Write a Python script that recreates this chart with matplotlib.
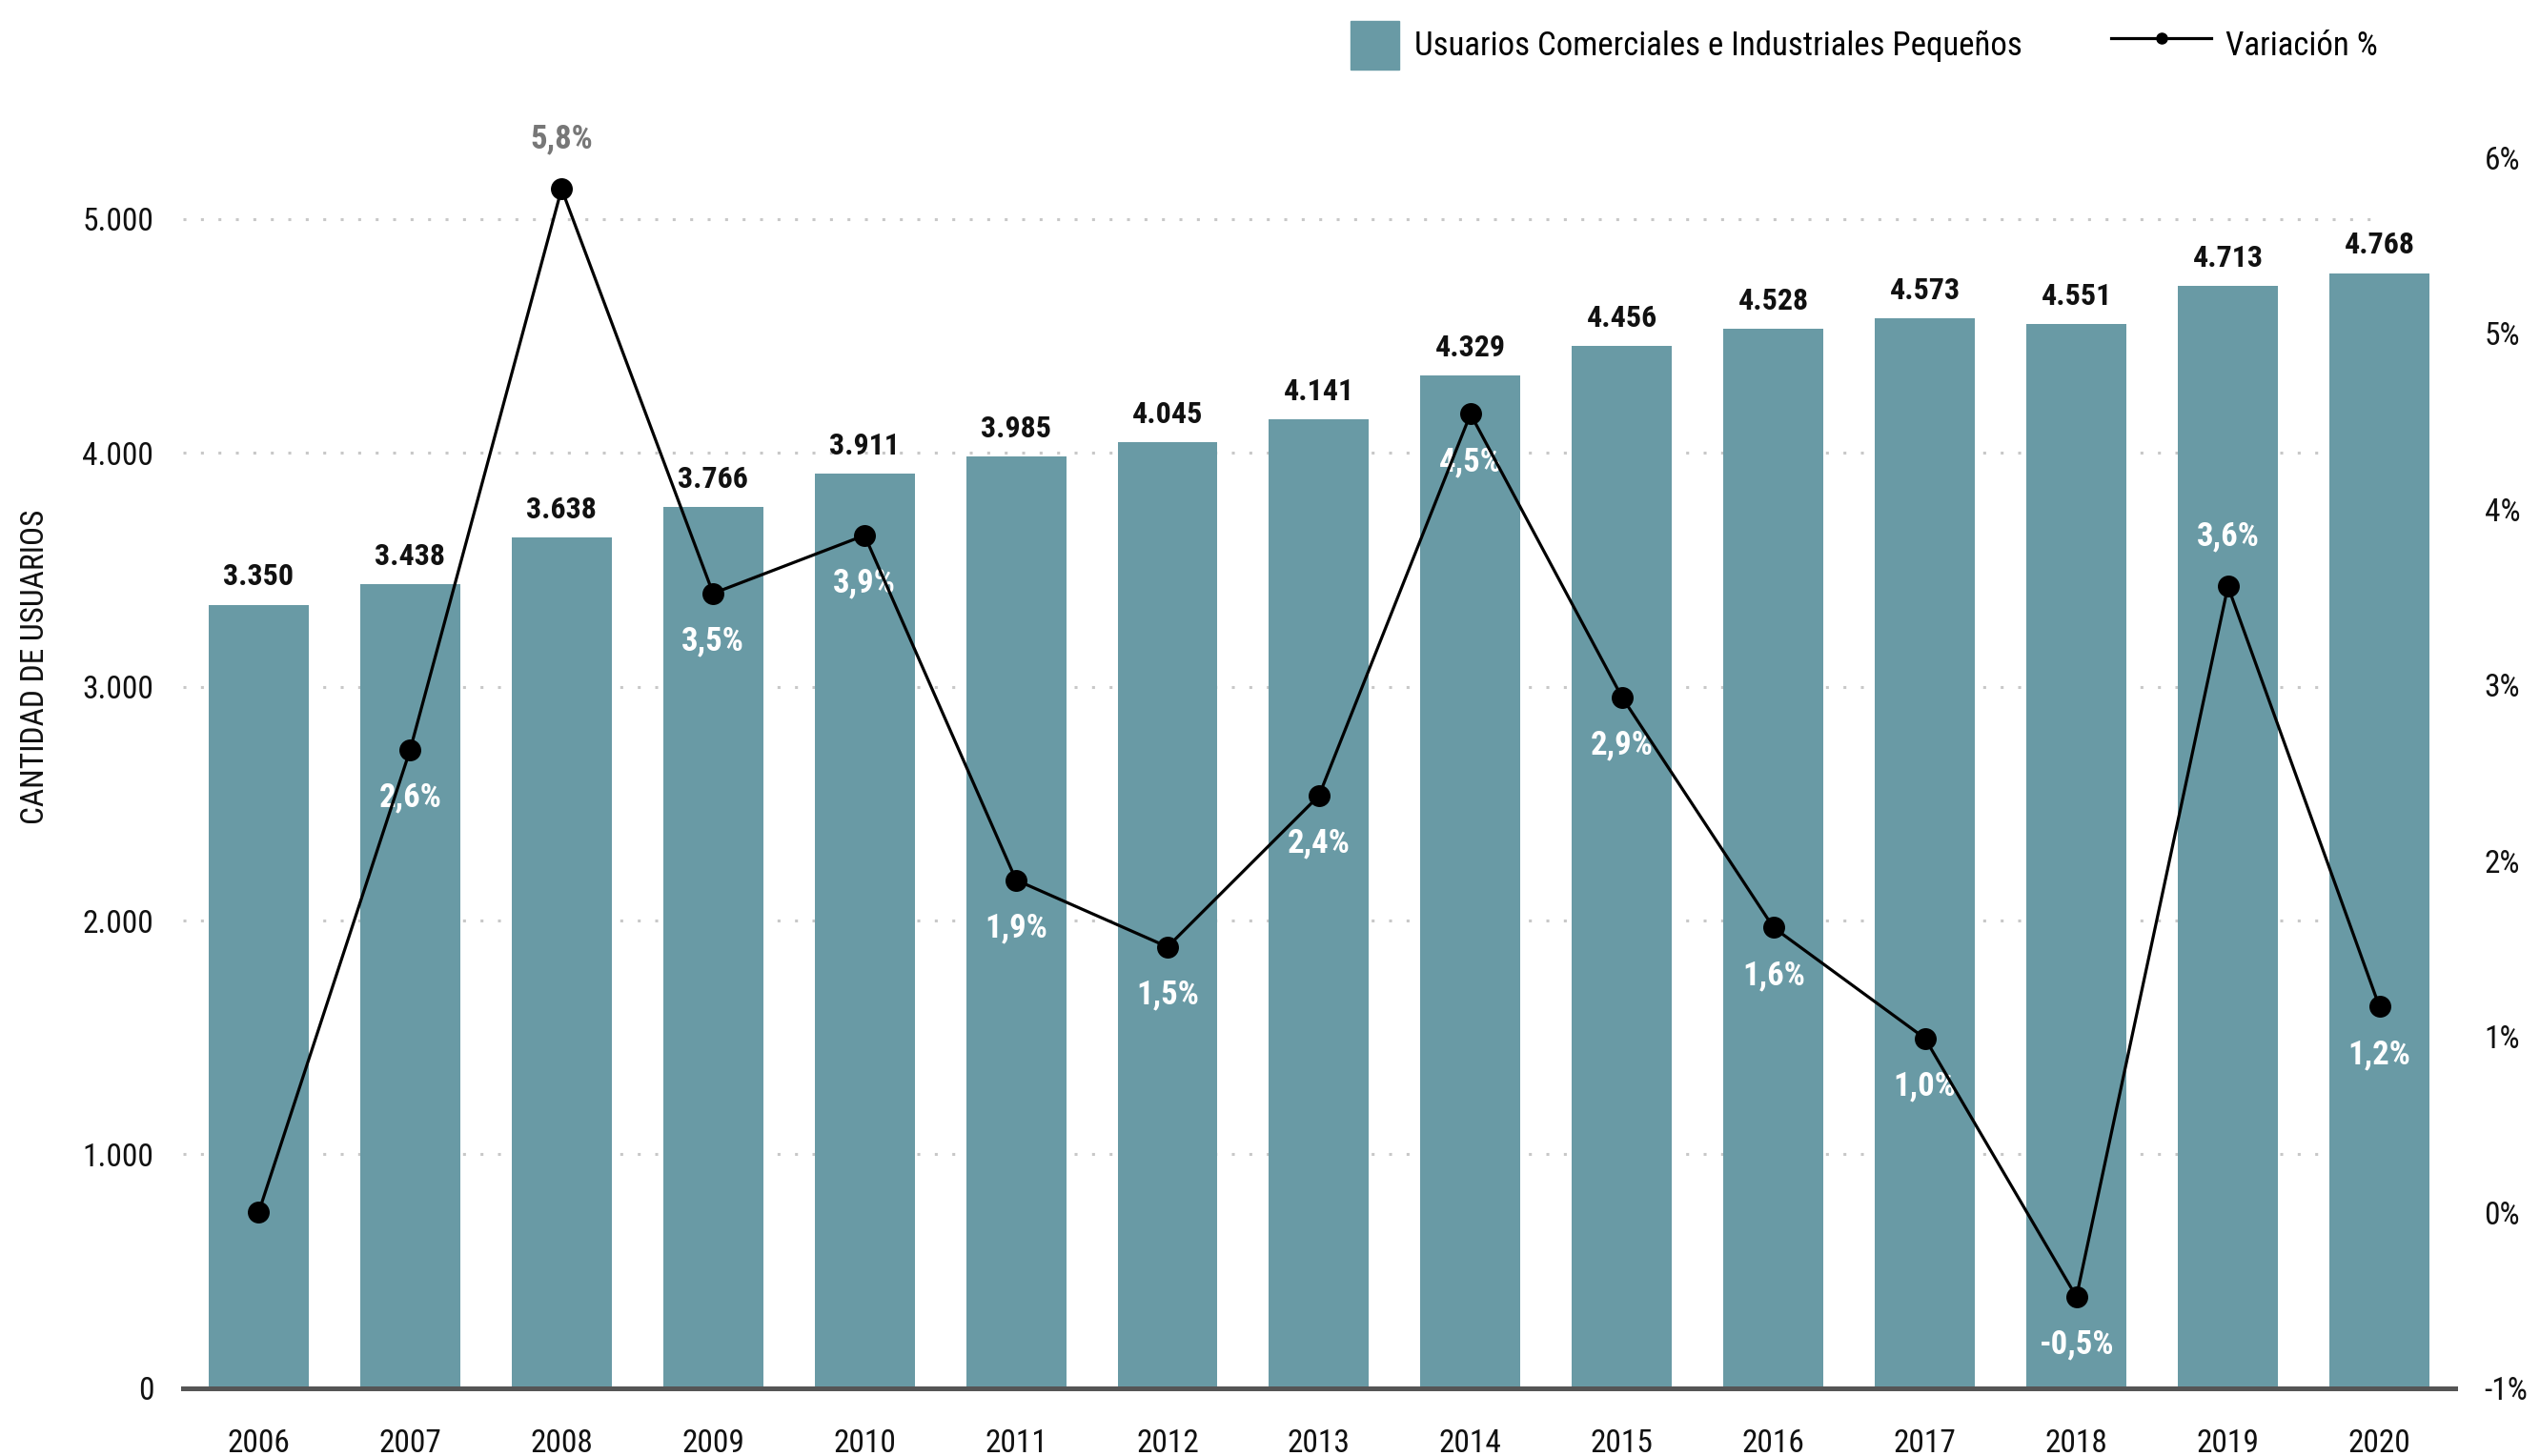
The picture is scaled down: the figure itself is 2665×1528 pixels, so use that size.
import matplotlib
matplotlib.use('Agg')
import matplotlib.pyplot as plt
from matplotlib.patches import Rectangle, Patch
from matplotlib.lines import Line2D
from matplotlib.legend_handler import HandlerPatch
from matplotlib.ticker import FuncFormatter

plt.rcParams['font.family'] = ['Roboto Condensed', 'Liberation Sans Narrow', 'Roboto', 'DejaVu Sans']

# Data
years = ['2006', '2007', '2008', '2009', '2010', '2011', '2012', '2013',
         '2014', '2015', '2016', '2017', '2018', '2019', '2020']
usuarios = [3350, 3438, 3638, 3766, 3911, 3985, 4045, 4141,
            4329, 4456, 4528, 4573, 4551, 4713, 4768]
variacion = [0.0, 2.63, 5.82, 3.52, 3.85, 1.89, 1.51, 2.37,
             4.54, 2.93, 1.62, 0.99, -0.48, 3.56, 1.17]
variacion_labels = ['', '2,6%', '5,8%', '3,5%', '3,9%', '1,9%', '1,5%', '2,4%',
                    '4,5%', '2,9%', '1,6%', '1,0%', '-0,5%', '3,6%', '1,2%']
left_ticks = [0, 1000, 2000, 3000, 4000, 5000]
right_ticks = [-1, 0, 1, 2, 3, 4, 5, 6]

bar_color = '#699aa5'
label_above = ['2008', '2019']

fig = plt.figure(figsize=(26.65, 15.28), dpi=100)
ax = fig.add_axes([0.072, 0.0465, 0.8946, 0.8455])
ax2 = ax.twinx()

x = list(range(len(years)))

# dotted gridlines behind the bars
ax.hlines(left_ticks[1:], -0.5, len(years) - 1, colors='#c8c8c8', linewidth=2.2,
          linestyles=(0, (1, 5)), zorder=0)
ax.bar(x, usuarios, width=0.66, color=bar_color, zorder=2)

for i, v in enumerate(usuarios):
    ax.annotate(f'{v:,}'.replace(',', '.'), (i, v), xytext=(0, 21), textcoords='offset points',
                ha='center', va='center', fontsize=23, fontweight='bold', color='#111111')

ax.set_xlim(-0.5, len(years) - 0.5)
ax.set_ylim(0, 5263)
ax.set_xticks(x)
ax.set_xticklabels(years)
ax.set_yticks(left_ticks)
ax.yaxis.set_major_formatter(FuncFormatter(lambda v, p: f'{int(v):,}'.replace(',', '.')))
ax.tick_params(axis='both', length=0, labelsize=24, colors='#111111')
ax.tick_params(axis='x', pad=30)
ax.tick_params(axis='y', pad=22)

for side in ['left', 'right', 'top']:
    ax.spines[side].set_visible(False)
    ax2.spines[side].set_visible(False)
ax.spines['bottom'].set_color('#555555')
ax.spines['bottom'].set_linewidth(3.6)
ax2.spines['bottom'].set_visible(False)

# variation line
ax2.plot(x, variacion, color='black', linewidth=2.3, marker='o', markersize=15.5, zorder=5)
ax2.set_ylim(-1, 6)
ax2.set_yticks(right_ticks)
ax2.set_yticklabels([f'{t}%' for t in right_ticks])
ax2.tick_params(axis='y', length=0, labelsize=24, colors='#111111', pad=22)

for i, (v, lab) in enumerate(zip(variacion, variacion_labels)):
    if not lab:
        continue
    if years[i] in label_above:
        dy = 38
        # label sits above the bar -> grey, inside the bar -> white
        col = '#777777' if usuarios[i] * 7 / 5263 - 1 < v else 'white'
    else:
        dy = -36
        col = 'white'
    ax2.annotate(lab, (i, v), xytext=(0, dy), textcoords='offset points',
                 ha='center', va='center', fontsize=25, fontweight='bold', color=col,
                 annotation_clip=False)

fig.text(37 / 2665, 0.542, 'CANTIDAD DE USUARIOS', rotation=90,
         ha='center', va='center', fontsize=24, color='#111111')


def square_patch(legend, orig_handle, xdescent, ydescent, width, height, fontsize):
    return Rectangle((-xdescent + width - height, -ydescent), height, height)


handles = [Patch(color=bar_color, label='Usuarios Comerciales e Industriales Pequeños'),
           Line2D([], [], color='black', linewidth=2.3, marker='o', markersize=8,
                  label='Variación %')]
fig.legend(handles=handles, loc='center right', bbox_to_anchor=(2495 / 2665, 0.969),
           ncol=2, frameon=False, fontsize=25, handlelength=3.0, handleheight=1.9,
           handletextpad=0.45, columnspacing=2.7, borderpad=0, borderaxespad=0,
           handler_map={Patch: HandlerPatch(patch_func=square_patch)})

fig.savefig('out.png', dpi=100)
